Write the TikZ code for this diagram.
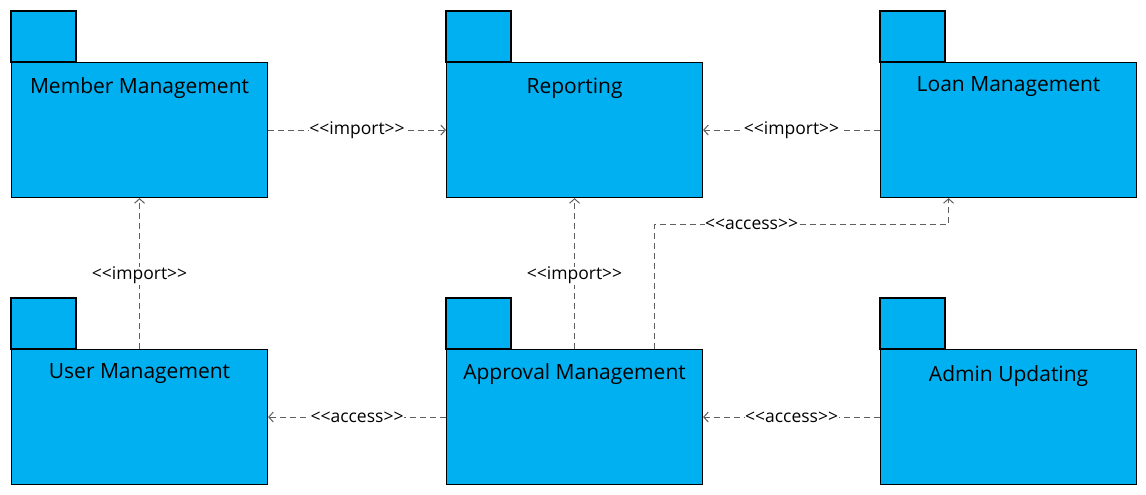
\documentclass[tikz,border=0pt]{standalone}
\usepackage{fontspec}
\setmainfont{Open Sans}
\usetikzlibrary{arrows.meta,calc}
\definecolor{pkgblue}{RGB}{0,176,240}
\definecolor{depgrey}{RGB}{95,95,95}
\tikzset{
  pkgbody/.style={draw=black, line width=1.1pt, fill=pkgblue, minimum width=256pt, minimum height=135pt, inner sep=0pt, anchor=north west},
  pkgtab/.style={draw=black, line width=1.1pt, fill=pkgblue},
  pkgtext/.style={font=\fontsize{21}{24}\selectfont, inner sep=0pt, anchor=center},
  dep/.style={draw=depgrey, line width=1pt, dash pattern=on 6pt off 4pt, -{Straight Barb[length=4.5pt,width=10pt,line width=1pt]}},
  deplabel/.style={font=\fontsize{17.5}{20}\selectfont, fill=white, inner sep=0.5pt, text=black}
}
\newcommand{\mypkg}[5]{% name, x, y (top of body), title, title y offset
  \draw[pkgtab] (#2,#3) rectangle (#2+65,#3-51);
  \node[pkgbody] (#1) at (#2,#3) {};
  \node[pkgtext] (#1t) at ($(#1.north)+(0,#5)$) {#4};
}
\newcommand{\st}[1]{<\kern0pt<\kern0pt#1\kern0pt>\kern0pt>}
\begin{document}
\begin{tikzpicture}[x=1pt,y=-1pt]
\useasboundingbox (0,0) rectangle (1146,495);
\mypkg{mm}{11}{62}{Member Management}{26}
\mypkg{rep}{446}{62}{Reporting}{26}
\mypkg{lm}{880}{62}{Loan Management}{25}
\mypkg{um}{11}{349}{User Management}{25}
\mypkg{am}{446}{349}{Approval Management}{25}
\mypkg{au}{880}{349}{Admin Updating}{27}

\draw[dep] (mm.east) -- node[deplabel, pos=0.5]{\st{import}} (rep.west);
\draw[dep] (lm.west) -- node[deplabel, pos=0.5]{\st{import}} (rep.east);
\draw[dep] (um.north) -- node[deplabel, pos=0.5, yshift=-2pt]{\st{import}} (mm.south);
\draw[dep] (am.north) -- node[deplabel, pos=0.5, yshift=-2pt]{\st{import}} (rep.south);
\coordinate (a1) at ($(am.north)+(80,0)$);
\coordinate (a2) at ($(lm.south)+(-60,0)$);
\draw[dep] (a1) -- (a1 |- 0,224) -- node[deplabel, pos=0.33]{\st{access}} (a2 |- 0,224) -- (a2);
\draw[dep] (am.west) -- node[deplabel, pos=0.5]{\st{access}} (um.east);
\draw[dep] (au.west) -- node[deplabel, pos=0.5]{\st{access}} (am.east);
\end{tikzpicture}
\end{document}
